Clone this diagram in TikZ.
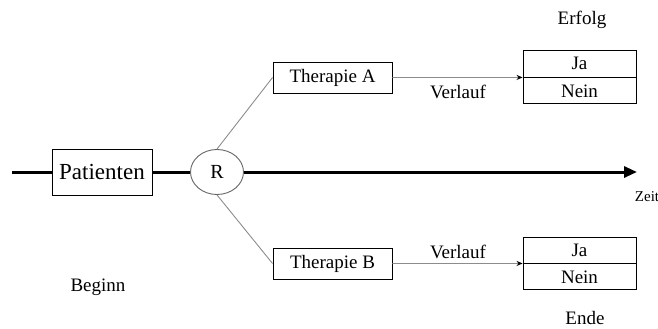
\documentclass[tikz,border=0pt]{standalone}
\usepackage{fontspec}
\setmainfont{Liberation Serif}
\newfontfamily\tms{Liberation Serif}
\usetikzlibrary{shapes.geometric,arrows.meta}
\begin{document}
\begin{tikzpicture}[x=1pt,y=-1pt,
  txt/.style={font=\tms\fontsize{19}{22}\selectfont, inner sep=0pt},
  box/.style={draw, line width=0.9pt, inner sep=0pt, font=\tms\fontsize{19}{22}\selectfont},
  thickline/.style={line width=3pt},
  thinline/.style={draw=black!45, line width=0.9pt}]
\useasboundingbox (0,0) rectangle (658,329);
\node[box, minimum width=100pt, minimum height=46pt, font=\tms\fontsize{23}{26}\selectfont] (P) at (102,172) {Patienten};
\node[ellipse, draw, black!60, text=black, line width=0.9pt, minimum width=53pt, minimum height=45pt, inner sep=0pt, font=\tms\fontsize{20}{24}\selectfont] (R) at (217,172) {R};
\node[box, minimum width=119pt, minimum height=31pt] (TA) at (332.5,77.5) {Therapie A};
\node[box, minimum width=119pt, minimum height=31pt] (TB) at (332.5,263.5) {Therapie B};
\node[box, minimum width=113pt, minimum height=27pt] (JaA) at (579.5,63.5) {Ja};
\node[box, minimum width=113pt, minimum height=26pt, anchor=north] (NeinA) at (JaA.south) {Nein};
\node[box, minimum width=113pt, minimum height=26pt] (JaB) at (579.5,250) {Ja};
\node[box, minimum width=113pt, minimum height=26pt, anchor=north] (NeinB) at (JaB.south) {Nein};
\coordinate (S) at (12,172);
\coordinate (E) at (637,172);
\draw[thickline] (S) -- (P.west);
\draw[thickline] (P.east) -- (R.west);
\draw[thickline, -{Triangle[length=13pt,width=11pt]}] (R.east) -- (E);
\draw[thinline] (R.north) -- (TA.west);
\draw[thinline] (R.south) -- (TB.west);
\draw[thinline, -{Stealth[length=6pt,width=5pt,black]}] (TA.east) -- (JaA.south west);
\draw[thinline, -{Stealth[length=6pt,width=5pt,black]}] (TB.east) -- (JaB.south west);
\node[txt] (VA) at (458,92) {Verlauf};
\node[txt] (VB) at (458,252) {Verlauf};
\node[txt] (Erf) at (582,20) {Erfolg};
\node[txt] (Beg) at (98,287) {Beginn};
\node[txt] (End) at (585,318) {Ende};
\node[txt, font=\tms\fontsize{15}{17}\selectfont] (Z) at (647,197) {Zeit};
\end{tikzpicture}
\end{document}
